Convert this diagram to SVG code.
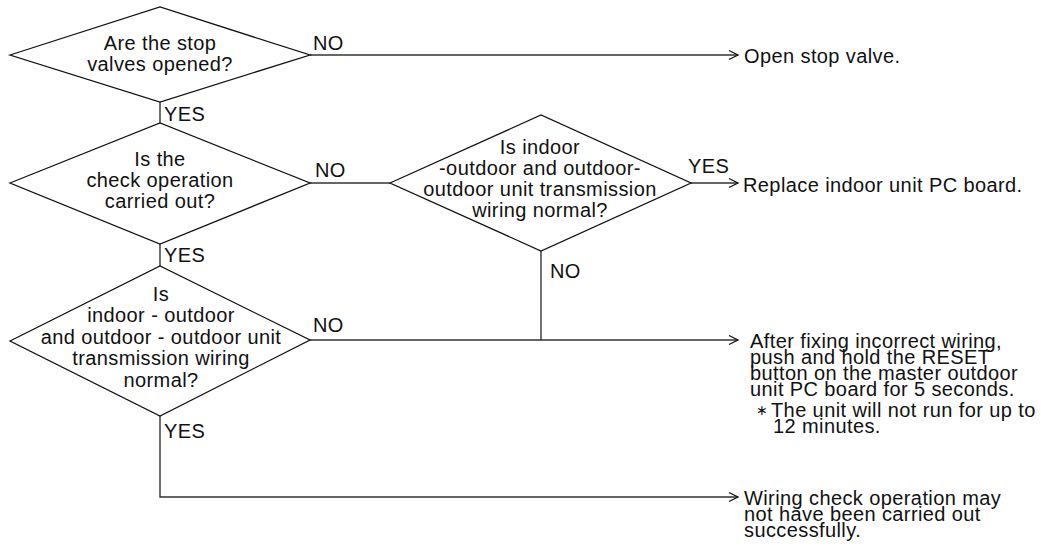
<svg xmlns="http://www.w3.org/2000/svg" width="1044" height="552" viewBox="0 0 1044 552">
<style>
  .shape { fill: #ffffff; stroke: #111111; stroke-width: 1.3; }
  .conn { fill: none; stroke: #333333; stroke-width: 1.4; }
  text { font-family: "Liberation Sans", Arial, Helvetica, sans-serif; font-size: 20px; letter-spacing: 0.4px; fill: #111111; }
  .c { text-anchor: middle; }
  .star { font-size: 14px; }
</style>
<defs>
  <marker id="arr" viewBox="-10 -6 12 12" refX="0" refY="0" markerWidth="12" markerHeight="12" orient="auto" markerUnits="userSpaceOnUse">
    <path d="M-9,-4.5 L0,0 L-9,4.5" fill="none" stroke="#111111" stroke-width="1.3"/>
  </marker>
</defs>
<rect width="1044" height="552" fill="#ffffff"/>

<g id="connectors">
  <path class="conn" d="M310,55 H738" marker-end="url(#arr)"/>
  <text x="313" y="50">NO</text>
  <path class="conn" d="M160,102 V123"/>
  <text x="164" y="121">YES</text>
  <path class="conn" d="M310,183 H390"/>
  <text x="315" y="177">NO</text>
  <path class="conn" d="M691,183 H738" marker-end="url(#arr)"/>
  <text x="688" y="173">YES</text>
  <path class="conn" d="M160,244 V266"/>
  <text x="164" y="262">YES</text>
  <path class="conn" d="M310,340 H738" marker-end="url(#arr)"/>
  <text x="313" y="332">NO</text>
  <path class="conn" d="M541,251 V340"/>
  <text x="550" y="278">NO</text>
  <path class="conn" d="M160,416 V497 H738" marker-end="url(#arr)"/>
  <text x="164" y="438">YES</text>
</g>

<g id="d1">
  <polygon class="shape" points="10,55 160,7 310,55 160,102"/>
  <text class="c" x="160" y="50">Are the stop</text>
  <text class="c" x="160" y="71">valves opened?</text>
</g>

<g id="d2">
  <polygon class="shape" points="10,183 160,123 310,183 160,244"/>
  <text class="c" x="160" y="166">Is the</text>
  <text class="c" x="160" y="187">check operation</text>
  <text class="c" x="160" y="208">carried out?</text>
</g>

<g id="d3">
  <polygon class="shape" points="10,341 160,266 310,340 160,416"/>
  <text class="c" x="161" y="301">Is</text>
  <text class="c" x="161" y="322">indoor - outdoor</text>
  <text class="c" x="161" y="344">and outdoor - outdoor unit</text>
  <text class="c" x="161" y="365">transmission wiring</text>
  <text class="c" x="161" y="387">normal?</text>
</g>

<g id="d4">
  <polygon class="shape" points="390,183 541,115 691,183 541,251"/>
  <text class="c" x="540" y="154">Is indoor</text>
  <text class="c" x="540" y="175">-outdoor and outdoor-</text>
  <text class="c" x="540" y="196">outdoor unit transmission</text>
  <text class="c" x="540" y="217">wiring normal?</text>
</g>

<g id="r1">
  <text x="744" y="63">Open stop valve.</text>
</g>

<g id="r2">
  <text x="743" y="192">Replace indoor unit PC board.</text>
</g>

<g id="r3">
  <text x="750" y="348">After fixing incorrect wiring,</text>
  <text x="750" y="364">push and hold the RESET</text>
  <text x="750" y="380">button on the master outdoor</text>
  <text x="750" y="396">unit PC board for 5 seconds.</text>
  <text x="756" y="417"><tspan class="star" dy="-2">∗</tspan><tspan x="771" dy="2">The unit will not run for up to</tspan></text>
  <text x="773" y="433">12 minutes.</text>
</g>

<g id="r4">
  <text x="744" y="505">Wiring check operation may</text>
  <text x="744" y="521">not have been carried out</text>
  <text x="744" y="537">successfully.</text>
</g>
</svg>
